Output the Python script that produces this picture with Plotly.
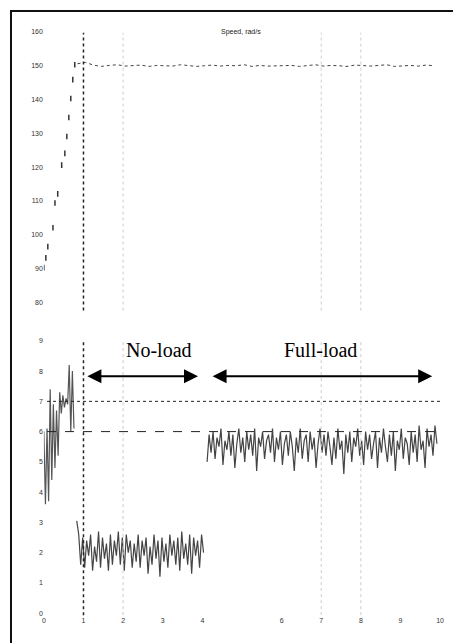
import plotly.graph_objects as go

# ---------------- data ----------------
# top panel: speed (rad/s)
speed_ramp_t = [0.0, 0.05, 0.1, 0.23, 0.28, 0.35, 0.45, 0.53, 0.58, 0.63, 0.68, 0.73, 0.78]
speed_ramp_v = [90.3, 93.2, 96.5, 102.1, 109.4, 112.1, 120.6, 124.1, 129.1, 134.7, 140.3, 145.9, 150.3]
speed_flat_t0 = 0.85
speed_flat_dt = 0.2
speed_flat_v = [150.6, 151.0, 150.2, 149.8, 150.1, 150.3, 149.9, 150.0, 150.2, 149.8,
                150.1, 150.0, 149.9, 150.3, 150.1, 149.8, 150.0, 150.2, 149.9, 150.1,
                150.0, 150.3, 149.8, 150.1, 149.9, 150.0, 150.2, 150.1, 149.8, 150.0,
                150.3, 149.9, 150.1, 150.0, 149.8, 150.2, 150.0, 149.9, 150.1, 150.3,
                149.8, 150.0, 150.1, 149.9, 150.2, 150.0]

# bottom panel: current
start_t0, start_dt = 0.0, 0.04
start_v = [6.0, 3.6, 6.1, 3.7, 7.4, 4.4, 6.9, 4.8, 6.7, 5.2, 7.3, 6.6, 7.2, 6.8,
           7.1, 6.9, 8.2, 6.0, 8.0, 6.1]
noload_t0, noload_dt = 0.83, 0.05
noload_v = [3.05, 2.6, 1.6, 2.5, 1.5, 2.4, 1.9, 2.6, 1.4, 2.2, 1.7, 2.7, 1.5, 2.5, 1.8,
            2.3, 1.4, 2.6, 1.6, 2.4, 1.9, 2.7, 1.6, 2.5, 1.4, 2.6, 2.0, 2.4, 1.5, 2.3,
            1.7, 2.6, 1.5, 2.4, 1.9, 2.5, 1.3, 2.2, 1.6, 2.6, 1.8, 2.4, 1.2, 2.5, 1.7,
            2.3, 1.5, 2.6, 1.9, 2.4, 1.6, 2.5, 1.4, 2.7, 1.8, 2.3, 1.6, 2.6, 1.3, 2.5,
            1.9, 2.4, 1.5, 2.6, 2.0]
fullload_t0, fullload_dt = 4.12, 0.05
fullload_v = [5.0, 5.9, 5.3, 6.0, 5.1, 5.8, 5.5, 6.1, 4.9, 5.7, 5.4, 6.0, 5.2, 5.9, 4.8,
              5.6, 6.1, 5.3, 5.8, 5.0, 6.0, 5.4, 5.9, 5.2, 6.1, 4.7, 5.8, 5.5, 6.0, 5.1,
              5.7, 5.9, 5.3, 6.1, 5.0, 5.8, 5.4, 6.0, 4.9, 5.6, 5.9, 5.2, 6.0, 5.5, 4.7,
              5.8, 5.3, 6.1, 5.1, 5.7, 5.9, 5.0, 6.0, 5.4, 5.8, 4.8, 5.6, 6.1, 5.3, 5.9,
              5.2, 6.0, 5.5, 4.9, 5.8, 5.1, 6.1, 5.4, 5.7, 4.6, 5.9, 5.3, 6.0, 5.0, 5.8,
              5.5, 6.1, 5.2, 5.7, 4.9, 6.0, 5.4, 5.9, 5.1, 5.6, 6.0, 4.8, 5.8, 5.3, 6.1,
              5.5, 5.0, 5.9, 5.2, 6.0, 4.7, 5.7, 5.4, 6.1, 5.1, 5.8, 5.6, 4.9, 6.0, 5.3,
              5.9, 5.0, 6.2, 5.4, 5.7, 4.8, 6.1, 5.5, 5.9, 5.2, 6.2, 5.6]
ref_levels = [7.0, 6.0]
ref_span = [0.08, 10.0]
load_step_t = 1.0
grid_t = [2, 7, 8]
x_ticks = [0, 1, 2, 3, 4, 6, 7, 8, 9, 10]
top_ticks = [80, 90, 100, 110, 120, 130, 140, 150, 160]
bot_ticks = [0, 1, 2, 3, 4, 5, 6, 7, 8, 9]
noload_span = [1.06, 3.89]
fullload_span = [4.22, 9.80]
noload_label_t = 2.91
fullload_label_t = 6.98
arrow_level = 7.83
label_level = 8.7

# ---------------- build ----------------
def series(t0, dt, vals):
    return [t0 + i * dt for i in range(len(vals))], vals

# the page body adds an 8 px margin; the figure fills the rest of the window
OFF = 8
W, H = 461 - OFF, 644 - OFF


def px_x(p):
    return (p - OFF) / W


def px_y(p):
    return (H - (p - OFF)) / H


xdom = [px_x(42), px_x(446)]
top_dom = [px_y(310), px_y(28)]
bot_dom = [px_y(616), px_y(336)]

fig = go.Figure()

flat_t, flat_v = series(speed_flat_t0, speed_flat_dt, speed_flat_v)
fig.add_trace(go.Scatter(x=speed_ramp_t, y=speed_ramp_v, mode="markers",
                         marker=dict(symbol="line-ns", size=4, line=dict(width=1.5, color="#333")),
                         xaxis="x", yaxis="y", showlegend=False))
fig.add_trace(go.Scatter(x=flat_t, y=flat_v, mode="lines",
                         line=dict(color="#444", width=1, dash="dot"),
                         xaxis="x", yaxis="y", showlegend=False))

segs = [series(start_t0, start_dt, start_v),
        series(noload_t0, noload_dt, noload_v),
        series(fullload_t0, fullload_dt, fullload_v)]
for (tt, vv), col in zip(segs, ["#555", "#444", "#444"]):
    fig.add_trace(go.Scatter(x=tt, y=vv, mode="lines", line=dict(color=col, width=1.2),
                             xaxis="x2", yaxis="y2", showlegend=False))

for lvl, dash in zip(ref_levels, ["dot", "dash"]):
    fig.add_trace(go.Scatter(x=ref_span, y=[lvl, lvl], mode="lines",
                             line=dict(color="#222", width=1, dash=dash),
                             xaxis="x2", yaxis="y2", showlegend=False))

shapes = []
for yr in ["y", "y2"]:
    shapes.append(dict(type="line", xref="x", yref=f"{yr} domain", x0=load_step_t, x1=load_step_t,
                       y0=0, y1=0.99, line=dict(color="#222", width=1.5, dash="dot")))
    for g in grid_t:
        shapes.append(dict(type="line", xref="x", yref=f"{yr} domain", x0=g, x1=g,
                           y0=0, y1=0.99, line=dict(color="#ccc", width=1, dash="dot")))
# outer frame (top and left edges)
shapes.append(dict(type="line", xref="paper", yref="paper", x0=0, x1=1, y0=1 - 1 / H, y1=1 - 1 / H,
                   line=dict(color="#111", width=2)))
shapes.append(dict(type="line", xref="paper", yref="paper", x0=1 / W, x1=1 / W, y0=0, y1=1,
                   line=dict(color="#111", width=2)))

ann = []
for span in [noload_span, fullload_span]:
    ann.append(dict(x=span[1], y=arrow_level, ax=span[0], ay=arrow_level,
                    xref="x2", yref="y2", axref="x2", ayref="y2", text="",
                    showarrow=True, arrowhead=2, startarrowhead=2, arrowside="end+start",
                    arrowsize=1.4, startarrowsize=1.4, arrowwidth=2, arrowcolor="#000",
                    standoff=0, startstandoff=0))
ann.append(dict(x=noload_label_t, y=label_level, xref="x2", yref="y2", text="No-load",
                showarrow=False, font=dict(family="Liberation Serif", size=20, color="#000")))
ann.append(dict(x=fullload_label_t, y=label_level, xref="x2", yref="y2", text="Full-load",
                showarrow=False, font=dict(family="Liberation Serif", size=20, color="#000")))
ann.append(dict(x=px_x(240), y=px_y(24), xref="paper", yref="paper",
                text="Speed, rad/s", showarrow=False,
                font=dict(family="Liberation Sans", size=7, color="#222")))

tickfont = dict(family="Liberation Sans", size=7, color="#333")
fig.update_layout(
    width=W, height=H, margin=dict(l=0, r=0, t=0, b=0),
    paper_bgcolor="white", plot_bgcolor="white",
    shapes=shapes, annotations=ann,
    xaxis=dict(domain=xdom, range=[0, 10.15], showgrid=False, zeroline=False,
               showticklabels=False, anchor="y"),
    yaxis=dict(domain=top_dom, range=[77.6, 160.6], tickvals=top_ticks, showgrid=False,
               zeroline=False, tickfont=tickfont, anchor="x"),
    xaxis2=dict(domain=xdom, range=[0, 10.15], tickvals=x_ticks, showgrid=False, zeroline=False,
                tickfont=tickfont, anchor="y2", matches="x"),
    yaxis2=dict(domain=bot_dom, range=[-0.066, 9.145], tickvals=bot_ticks, showgrid=False,
                zeroline=False, tickfont=tickfont, anchor="x2"),
)

fig.write_html("out.html")
